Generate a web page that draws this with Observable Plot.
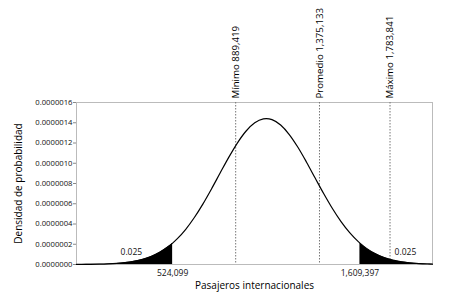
<!DOCTYPE html>
<html><head><meta charset="utf-8">
<script src="https://cdn.jsdelivr.net/npm/d3@7"></script>
<script src="https://cdn.jsdelivr.net/npm/@observablehq/plot@0.6"></script>
<style>body{margin:0;background:#fff} svg{display:block}</style>
</head><body><div id="chart"></div>
<script>
// Curve: passengers vs. probability density
const pasajeros = [-33000, 0, 50000, 100000, 150000, 200000, 250000, 300000, 350000, 400000, 450000, 500000, 524099,
  550000, 600000, 650000, 700000, 750000, 800000, 850000, 900000, 950000, 1000000, 1050000, 1066748,
  1100000, 1150000, 1200000, 1250000, 1300000, 1350000, 1400000, 1450000, 1500000, 1550000, 1600000, 1609397,
  1650000, 1700000, 1750000, 1800000, 1850000, 1900000, 1950000, 2000000, 2030000];
const densidad = [5.4e-10, 8.6e-10, 1.7e-9, 3.24e-9, 5.99e-9, 1.073e-8, 1.859e-8, 3.114e-8, 5.05e-8, 7.93e-8, 1.206e-7, 1.773e-7, 2.111e-7,
  2.524e-7, 3.479e-7, 4.642e-7, 5.993e-7, 7.489e-7, 9.059e-7, 1.0606e-6, 1.2019e-6, 1.3184e-6, 1.3997e-6, 1.4384e-6, 1.441e-6,
  1.4307e-6, 1.3773e-6, 1.2834e-6, 1.1575e-6, 1.0105e-6, 8.538e-7, 6.983e-7, 5.528e-7, 4.236e-7, 3.141e-7, 2.255e-7, 2.111e-7,
  1.567e-7, 1.054e-7, 6.86e-8, 4.32e-8, 2.63e-8, 1.55e-8, 8.9e-9, 4.9e-9, 3.4e-9];
const limiteInferior = 524099;
const limiteSuperior = 1609397;
const referencias = [889419, 1375133, 1783841];
const etiquetasReferencias = ["Mínimo 889,419", "Promedio 1,375,133", "Máximo 1,783,841"];
const colaEtiquetas = ["0.025", "0.025"];
const xTicks = [524099, 1609397];
const yTicks = [0, 2e-7, 4e-7, 6e-7, 8e-7, 1e-6, 1.2e-6, 1.4e-6, 1.6e-6];

const data = pasajeros.map((x, i) => ({x, y: densidad[i]}));
const colaIzq = data.filter(d => d.x <= limiteInferior);
const colaDer = data.filter(d => d.x >= limiteSuperior);
const font = "'Open Sans', sans-serif";

const chart = Plot.plot({
  width: 454, height: 302,
  marginLeft: 76, marginRight: 22, marginTop: 102, marginBottom: 38,
  style: {fontFamily: font, fontSize: "7.7px", color: "#111", background: "#fff", overflow: "visible"},
  x: {domain: [-33000, 2030000]},
  y: {domain: [0, 1.6e-6]},
  marks: [
    Plot.frame({stroke: "#bbb"}),
    Plot.axisY({ticks: yTicks, tickFormat: d3.format(".7f"), tickSize: 3, tickPadding: 1, stroke: "#888", fill: "#111", label: null}),
    Plot.axisX({ticks: xTicks, tickFormat: d3.format(","), tickSize: 0, tickPadding: 5, fill: "#111", fontSize: 8.5, label: null}),
    Plot.ruleX(referencias, {stroke: "#777", strokeDasharray: "1.5,1.5", strokeWidth: 1}),
    Plot.areaY(colaIzq, {x: "x", y: "y", fill: "black", curve: "monotone-x"}),
    Plot.areaY(colaDer, {x: "x", y: "y", fill: "black", curve: "monotone-x"}),
    Plot.lineY(data, {x: "x", y: "y", stroke: "black", strokeWidth: 1.2, curve: "monotone-x"}),
    Plot.text(referencias, {x: d => d, frameAnchor: "top", dy: -4, rotate: -90, textAnchor: "start", lineAnchor: "middle",
      text: (d, i) => etiquetasReferencias[i], fontSize: 9.7, fill: "#000"}),
    Plot.text(colaEtiquetas, {x: [285000, 1873000], y: [1.19e-7, 1.19e-7], text: d => d, fontSize: 8.5, fill: "#111"}),
    Plot.text(["Densidad de probabilidad"], {frameAnchor: "left", dx: -58, rotate: -90, textAnchor: "middle", lineAnchor: "middle", fontSize: 10, fill: "#000"}),
    Plot.text(["Pasajeros internacionales"], {frameAnchor: "bottom", dy: 21, textAnchor: "middle", lineAnchor: "middle", fontSize: 10, fill: "#000"})
  ]
});
document.getElementById("chart").append(chart);
</script>
</body></html>
